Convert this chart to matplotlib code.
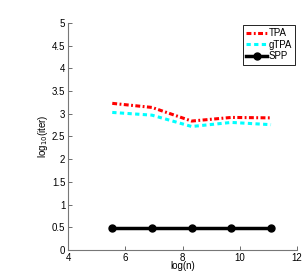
import numpy as np
import matplotlib
matplotlib.use('Agg')
import matplotlib.pyplot as plt

plt.rcParams['font.family'] = ['Liberation Sans', 'DejaVu Sans']

log_n = np.log([2**8, 2**10, 2**12, 2**14, 2**16])
tpa = [3.23, 3.14, 2.84, 2.92, 2.91]
gtpa = [3.03, 2.97, 2.72, 2.81, 2.76]
spp = [0.477, 0.477, 0.477, 0.477, 0.477]

fig = plt.figure(figsize=(3.05, 2.77), dpi=100)
ax = fig.add_axes([0.223, 0.0975, 0.751, 0.8195])

ax.plot(log_n, tpa, color='red', linestyle=(0, (1.6, 0.8, 0.6, 0.8)),
        linewidth=2.2, label='TPA')
ax.plot(log_n, gtpa, color='cyan', linestyle=(0, (1.4, 1.1)),
        linewidth=2.2, label='gTPA')
ax.plot(log_n, spp, color='black', linestyle='-', linewidth=2.5, marker='o',
        markersize=5, label='SPP')

ax.set_xlim(4, 12)
ax.set_ylim(0, 5)
ax.set_xticks([4, 6, 8, 10, 12])
ax.set_yticks(np.arange(0, 5.01, 0.5))
ax.set_yticklabels(['0', '0.5', '1', '1.5', '2', '2.5', '3', '3.5', '4', '4.5', '5'])
ax.tick_params(direction='in', labelsize=7, length=3, width=0.6, colors='#555555',
               labelcolor='black', pad=2)
for s in ['top', 'right']:
    ax.spines[s].set_visible(False)
for s in ['left', 'bottom']:
    ax.spines[s].set_color('#777777')
    ax.spines[s].set_linewidth(0.8)

ax.set_xlabel('log(n)', fontsize=7, labelpad=-1)
ax.set_ylabel('log$_{10}$(iter)', fontsize=7, labelpad=1)

leg = ax.legend(loc='upper right', fontsize=7, handlelength=2.2, handletextpad=0.1,
                borderpad=0.35, labelspacing=0.15, fancybox=False, framealpha=1,
                borderaxespad=0.2)
leg.get_frame().set_edgecolor('black')
leg.get_frame().set_linewidth(0.6)

plt.savefig('out.png', dpi=100)
plt.close()
